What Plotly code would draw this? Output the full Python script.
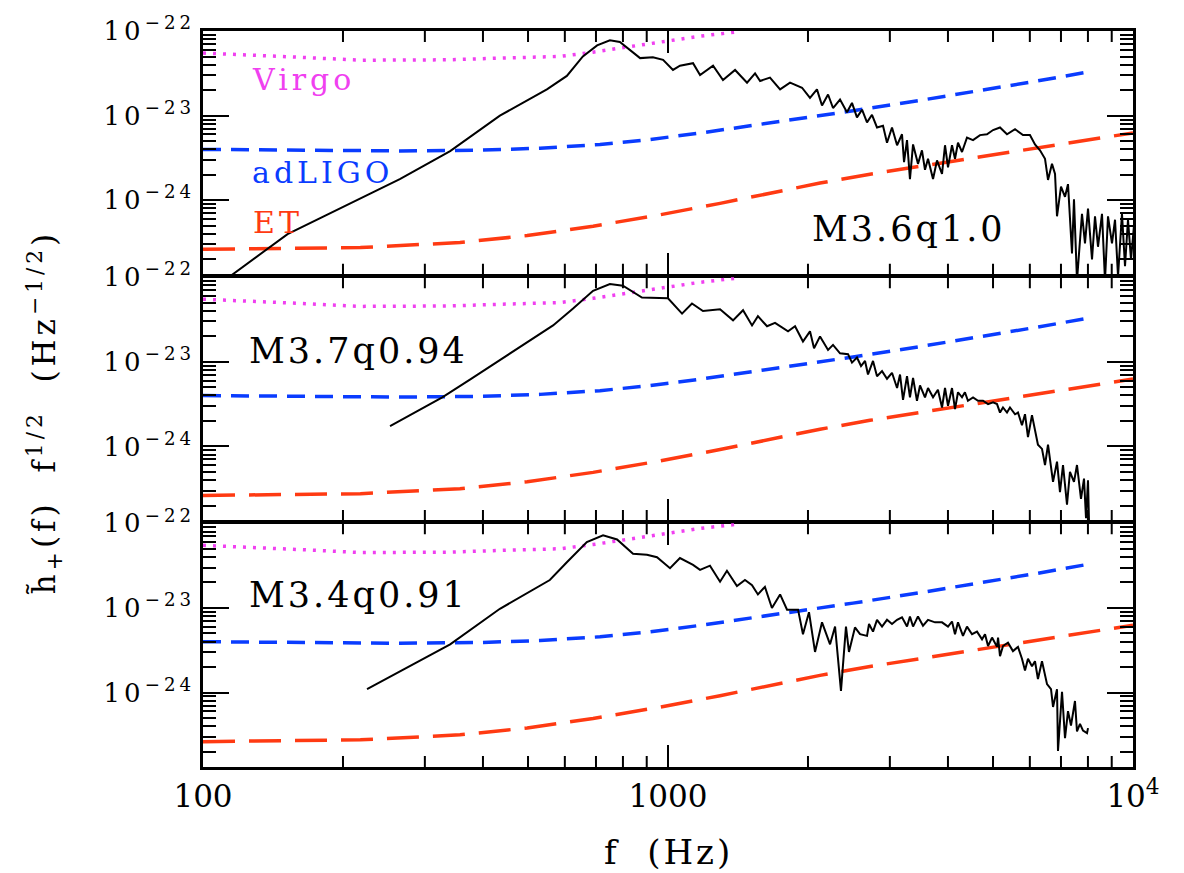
import math
import plotly.graph_objects as go
from plotly.subplots import make_subplots

FONT = "DejaVu Serif"
VIRGO_C = "#f040f0"
ADLIGO_C = "#0a3cff"
ET_C = "#ff3a12"

# Detector noise curves: frequency (Hz) and log10 of strain amplitude
virgo_f = [100, 126, 162, 218, 265, 340, 435, 586, 690, 816, 961, 1172, 1429]
virgo_logh = [-22.26, -22.28, -22.31, -22.345, -22.34, -22.34, -22.32, -22.30,
              -22.25, -22.19, -22.135, -22.06, -22.006]

adligo_f = [100, 162, 265, 394, 531, 714, 915, 1172, 1657, 2500, 3483, 4462, 6216, 8200]
adligo_logh = [-23.399, -23.411, -23.417, -23.408, -23.385, -23.341, -23.282, -23.206,
               -23.089, -22.943, -22.820, -22.726, -22.591, -22.474]

et_f = [100, 146, 218, 357, 498, 690, 961, 1294, 1657, 2123, 2719, 3483, 5714, 10000]
et_logh = [-24.580, -24.574, -24.559, -24.500, -24.418, -24.307, -24.172, -24.037,
           -23.915, -23.797, -23.692, -23.598, -23.409, -23.204]

# Model M3.6q1.0 spectrum
m36_f = [113, 152, 265, 340, 435, 549, 606, 656, 704, 750,
         788, 841, 871, 928, 976, 1025, 1061, 1132, 1172, 1250,
         1313, 1394, 1479, 1539, 1578, 1657, 1742, 1830, 1942, 2020,
         2091, 2144, 2209, 2264, 2344, 2426, 2487, 2549, 2614, 2679,
         2746, 2815, 2900, 2958, 3032, 3109, 3186, 3218, 3266, 3314,
         3365, 3448, 3517, 3570, 3624, 3715, 3789, 3884, 3942, 4001,
         4081, 4142, 4204, 4288, 4395, 4529, 4688, 4853, 5001, 5176,
         5358, 5576, 5800, 6003, 6155, 6309, 6468, 6565, 6696, 6797,
         6864, 7001, 7141, 7248, 7393, 7466, 7578, 7768, 7884, 8003,
         8163, 8285, 8409, 8577, 8705, 8836, 9012, 9148, 9285, 9469,
         9612, 9755, 9901, 10046]
m36_logh = [-24.92, -24.40, -23.75, -23.42, -23.00, -22.69, -22.53, -22.30, -22.17, -22.11,
            -22.13, -22.26, -22.32, -22.31, -22.34, -22.46, -22.41, -22.38, -22.52, -22.41,
            -22.58, -22.46, -22.61, -22.50, -22.59, -22.55, -22.69, -22.61, -22.67, -22.79,
            -22.69, -22.88, -22.75, -22.91, -22.81, -22.96, -22.85, -23.02, -22.93, -23.08,
            -22.99, -23.14, -23.12, -23.32, -23.14, -23.35, -23.22, -23.55, -23.29, -23.75,
            -23.34, -23.57, -23.41, -23.64, -23.51, -23.75, -23.53, -23.69, -23.35, -23.61,
            -23.35, -23.51, -23.32, -23.43, -23.26, -23.29, -23.23, -23.22, -23.17, -23.14,
            -23.22, -23.16, -23.23, -23.23, -23.34, -23.41, -23.51, -23.76, -23.57, -23.69,
            -24.19, -23.84, -23.96, -23.81, -24.63, -23.99, -24.95, -24.16, -24.51, -24.10,
            -24.70, -24.19, -24.55, -24.16, -24.95, -24.19, -24.51, -24.23, -24.90, -24.16,
            -24.78, -24.23, -24.70, -24.31]

# Model M3.7q0.94 spectrum
m37_f = [252.5, 327, 375, 457, 566, 625, 690, 750, 800, 879,
         1000, 1072, 1126, 1189, 1294, 1380, 1450, 1516, 1561, 1633,
         1699, 1812, 1876, 1951, 2020, 2061, 2123, 2209, 2264, 2344,
         2439, 2487, 2549, 2601, 2653, 2692, 2760, 2815, 2886, 2958,
         3032, 3109, 3155, 3202, 3266, 3314, 3365, 3431, 3483, 3570,
         3624, 3715, 3806, 3884, 3942, 4001, 4081, 4142, 4204, 4288,
         4351, 4416, 4529, 4642, 4758, 4878, 5001, 5100, 5176, 5253,
         5358, 5438, 5576, 5658, 5771, 5858, 5945, 6064, 6155, 6246,
         6372, 6468, 6565, 6730, 6864, 6966, 7071, 7212, 7319, 7466,
         7578, 7730, 7846, 7924, 8003, 8043]
m37_logh = [-23.76, -23.42, -23.21, -22.90, -22.57, -22.37, -22.16, -22.08, -22.10, -22.24,
            -22.25, -22.43, -22.31, -22.40, -22.38, -22.51, -22.39, -22.57, -22.46, -22.58,
            -22.54, -22.64, -22.58, -22.76, -22.64, -22.84, -22.70, -22.86, -22.80, -22.90,
            -22.91, -23.01, -22.95, -23.05, -22.99, -23.15, -22.99, -23.17, -23.11, -23.20,
            -23.13, -23.31, -23.15, -23.45, -23.17, -23.42, -23.19, -23.46, -23.28, -23.42,
            -23.31, -23.42, -23.33, -23.54, -23.31, -23.52, -23.31, -23.56, -23.36, -23.42,
            -23.36, -23.46, -23.42, -23.46, -23.46, -23.50, -23.48, -23.50, -23.60, -23.54,
            -23.60, -23.54, -23.62, -23.60, -23.75, -23.62, -23.89, -23.63, -23.83, -23.98,
            -24.03, -24.22, -23.98, -24.42, -24.18, -24.54, -24.22, -24.69, -24.30, -24.42,
            -24.22, -24.62, -24.38, -24.85, -24.40, -24.90]

# Model M3.4q0.91 spectrum
m34_f = [225.3, 340, 435, 557, 606, 669, 725, 777, 841, 901,
         947, 1010, 1061, 1132, 1172, 1231, 1294, 1339, 1407, 1464,
         1516, 1561, 1616, 1673, 1742, 1803, 1904, 1951, 2010, 2071,
         2144, 2231, 2287, 2355, 2414, 2450, 2524, 2588, 2679, 2706,
         2760, 2815, 2886, 2958, 3032, 3109, 3186, 3266, 3314, 3365,
         3448, 3535, 3624, 3752, 3884, 4001, 4081, 4142, 4204, 4309,
         4395, 4506, 4619, 4735, 4806, 4878, 4976, 5100, 5126, 5176,
         5253, 5385, 5519, 5658, 5771, 5858, 5945, 6064, 6155, 6246,
         6372, 6533, 6663, 6730, 6864, 6897, 7036, 7071, 7141, 7248,
         7356, 7503, 7578, 7691, 7808, 7964, 8003]
m34_logh = [-23.96, -23.43, -23.01, -22.67, -22.46, -22.22, -22.14, -22.19, -22.36, -22.37,
            -22.40, -22.53, -22.41, -22.49, -22.55, -22.50, -22.69, -22.56, -22.74, -22.67,
            -22.73, -22.84, -22.75, -23.00, -22.84, -23.02, -23.02, -23.31, -23.05, -23.52,
            -23.17, -23.43, -23.22, -23.98, -23.22, -23.52, -23.23, -23.31, -23.33, -23.19,
            -23.28, -23.14, -23.22, -23.14, -23.19, -23.14, -23.11, -23.22, -23.10, -23.22,
            -23.10, -23.21, -23.14, -23.17, -23.17, -23.22, -23.16, -23.31, -23.17, -23.33,
            -23.22, -23.31, -23.28, -23.37, -23.31, -23.45, -23.35, -23.46, -23.35, -23.57,
            -23.45, -23.41, -23.51, -23.46, -23.60, -23.74, -23.60, -23.69, -23.63, -23.84,
            -23.63, -23.90, -23.96, -24.17, -23.96, -24.69, -23.99, -24.15, -24.54, -24.22,
            -24.39, -24.10, -24.46, -24.37, -24.45, -24.48, -24.42]

panel_labels = ["M3.6q1.0", "M3.7q0.94", "M3.4q0.91"]

# axis tick positions and ranges
x_major = [100, 1000, 10000]
x_text = ["100", "1000", "10<sup>4</sup>"]
x_minor = [k * 10 ** e for e in (2, 3) for k in range(2, 10)]
y_major = [1e-22, 1e-23, 1e-24]
Y_LOG_RANGE = [-24.88, -21.9995]


def lin(vals):
    return [10.0 ** v for v in vals]


def spaced(text, px):
    return f'<span style="letter-spacing:{px}px">{text}</span>'


LW = 2.5
PLOT_H = 873 - 28 - 106
# a gap of one frame-line width lets neighbouring panel borders coincide
fig = make_subplots(rows=3, cols=1, shared_xaxes=True,
                    vertical_spacing=LW / PLOT_H)

# minor frequency ticks along the bottom and top edge of each panel,
# drawn as short vertical segments (length given in decades of strain)
panel_px = (PLOT_H - 2 * LW) / 3
tick_dec = 11 / panel_px * (Y_LOG_RANGE[1] - Y_LOG_RANGE[0])
lo, hi = Y_LOG_RANGE[0], -22.0
tick_x, tick_y = [], []
for v in x_minor:
    tick_x += [v, v, None, v, v, None]
    tick_y += [10 ** lo, 10 ** (lo + tick_dec), None,
               10 ** (hi - tick_dec), 10 ** hi, None]

panels = [(m36_f, m36_logh), (m37_f, m37_logh), (m34_f, m34_logh)]
for row, (f, lh) in enumerate(panels, start=1):
    fig.add_trace(go.Scatter(x=tick_x, y=tick_y, mode="lines", hoverinfo="skip",
                             line=dict(color="black", width=2)),
                  row=row, col=1)
    fig.add_trace(go.Scatter(x=virgo_f, y=lin(virgo_logh), mode="lines",
                             line=dict(color=VIRGO_C, width=3.5, dash="3px,7px")),
                  row=row, col=1)
    fig.add_trace(go.Scatter(x=adligo_f, y=lin(adligo_logh), mode="lines",
                             line=dict(color=ADLIGO_C, width=3.5, dash="18px,10px")),
                  row=row, col=1)
    fig.add_trace(go.Scatter(x=et_f, y=lin(et_logh), mode="lines",
                             line=dict(color=ET_C, width=3.5, dash="32px,14px")),
                  row=row, col=1)
    fig.add_trace(go.Scatter(x=f, y=lin(lh), mode="lines",
                             line=dict(color="black", width=2)),
                  row=row, col=1)

fig.update_xaxes(type="log", range=[2, 4], showline=True, linecolor="black",
                 linewidth=LW, mirror="ticks", ticks="inside", ticklen=22,
                 tickwidth=2, tickcolor="black", tickmode="array",
                 tickvals=x_major, ticktext=x_text,
                 showgrid=False, zeroline=False,
                 tickfont=dict(family=FONT, size=31, color="black"))

y_text = [spaced(f"10<sup>\u2212{e}</sup>", 4) for e in (22, 23, 24)]
fig.update_yaxes(type="log", range=Y_LOG_RANGE, showline=True,
                 linecolor="black", linewidth=LW, mirror="ticks",
                 ticks="inside", ticklen=26, tickwidth=2, tickcolor="black",
                 tickmode="array", tickvals=y_major, ticktext=y_text,
                 minor=dict(ticks="inside", ticklen=13, tickwidth=2,
                            tickcolor="black", dtick="D1"),
                 showgrid=False, zeroline=False,
                 tickfont=dict(family=FONT, size=26, color="black"))

annotations = []

# detector names in the top panel
for name, color, fx, ly in [("Virgo", VIRGO_C, 126, -22.577),
                             ("adLIGO", ADLIGO_C, 126, -23.678),
                             ("ET", ET_C, 127, -24.263)]:
    annotations.append(dict(text=spaced(name, 4), x=math.log10(fx), y=ly,
                            xref="x", yref="y", xanchor="left", yanchor="middle",
                            showarrow=False,
                            font=dict(family=FONT, size=30, color=color)))

# model labels
label_pos = [("x", "y", 2020, -24.345), ("x2", "y2", 124.3, -22.867),
             ("x3", "y3", 124.3, -22.849)]
for text, (xr, yr, fx, ly) in zip(panel_labels, label_pos):
    annotations.append(dict(text=spaced(text, 3), x=math.log10(fx), y=ly,
                            xref=xr, yref=yr, xanchor="left", yanchor="middle",
                            showarrow=False,
                            font=dict(family=FONT, size=35, color="black")))

# axis titles
annotations.append(dict(text=spaced("f  (Hz)", 3), x=0.5, y=-0.115,
                        xref="paper", yref="paper", xanchor="center",
                        yanchor="middle", showarrow=False,
                        font=dict(family=FONT, size=34, color="black")))
annotations.append(dict(
    text=spaced("h\u0303<sub>+</sub>(f)  f<sup>1/2</sup>  (Hz<sup>\u22121/2</sup>)", 4),
    x=-0.17, y=0.483, xref="paper", yref="paper", xanchor="center",
    yanchor="middle", textangle=-90, showarrow=False,
    font=dict(family=FONT, size=31, color="black")))

fig.update_layout(width=1184, height=873, showlegend=False,
                  margin=dict(l=203, r=51, t=28, b=106),
                  plot_bgcolor="white", paper_bgcolor="white",
                  annotations=annotations)

fig.write_html("out.html")
